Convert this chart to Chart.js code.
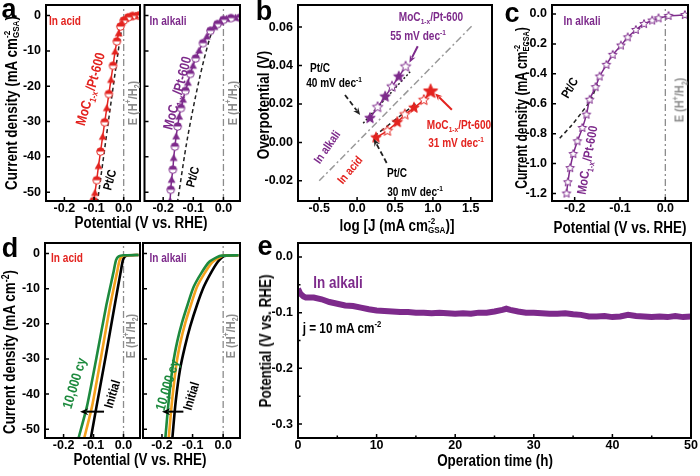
<!DOCTYPE html>
<html>
<head>
<meta charset="utf-8">
<script src="https://cdn.jsdelivr.net/npm/chart.js@4.4.1/dist/chart.umd.min.js"></script>
<style>
  html, body { margin: 0; padding: 0; background: #fff; }
  #fig { position: relative; width: 700px; height: 476px; overflow: hidden;
         font-family: 'Liberation Sans', Arial, sans-serif; font-weight: bold; }
  #fig canvas { position: absolute; }
  .t { position: absolute; white-space: nowrap; line-height: 1; transform-origin: center center; }
  .t sup, .t sub { font-size: 65%; line-height: 0; }
  .ss { display: inline-block; vertical-align: -0.25em; font-size: 60%; line-height: 0.95; text-align: left; }
  .ss span { display: block; }
</style>
</head>
<body>
<div id="fig"></div>
<script>
// ---- data ----
// a: LSV curves, potential (V vs RHE) / current density (mA cm-2 GSA)
const aAcidMoC_V = [0.05, 0.04, 0.03, 0.023, 0.015, 0.006, 0.0, -0.006, -0.011, -0.017, -0.023, -0.029, -0.036, -0.043, -0.050, -0.057, -0.064, -0.071, -0.078, -0.085, -0.091, -0.097, -0.101];
const aAcidMoC_J = [0, -0.05, -0.1, -0.3, -0.5, -0.9, -1.4, -2.0, -3.1, -5.0, -7.3, -10.2, -14.2, -18.2, -22.2, -26.2, -30.2, -34.3, -38.5, -42.6, -46.6, -50.2, -52.5];
const aAcidPt_V = [0.05, 0.02, 0.005, -0.005, -0.02, -0.05, -0.088];
const aAcidPt_J = [0, -0.3, -1.0, -3.0, -11, -29, -52.5];
const aAlkMoC_V = [0.055, 0.04, 0.025, 0.01, 0.0, -0.01, -0.02, -0.03, -0.043, -0.055, -0.068, -0.081, -0.092, -0.101, -0.110, -0.118, -0.126, -0.134, -0.141, -0.147, -0.152, -0.157, -0.161, -0.165, -0.168, -0.172, -0.175, -0.177];
const aAlkMoC_J = [-0.6, -0.6, -0.7, -0.9, -1.2, -1.8, -2.4, -3.2, -4.3, -5.9, -7.8, -9.9, -12.1, -14.2, -16.5, -19.0, -21.3, -23.8, -26.2, -28.6, -31.4, -34.2, -37.1, -40.3, -43.6, -46.5, -49.3, -52.5];
const aAlkPt_V = [0.05, 0.0, -0.02, -0.04, -0.08, -0.12, -0.152];
const aAlkPt_J = [-0.6, -1.0, -2.5, -5, -18, -35, -52.5];

// b: Tafel plots, log J / overpotential (V)
const bGuide_X = [-0.5, 1.52];
const bGuide_Y = [-0.02, 0.0608];
const bAlkMoC_X = [0.17, 0.27, 0.37, 0.46, 0.55, 0.64];
const bAlkMoC_Y = [0.0126, 0.0183, 0.0238, 0.029, 0.0342, 0.0394];
const bAlkPt_X = [0.08, 0.70];
const bAlkPt_Y = [0.010, 0.0368];
const bAcidMoC_X = [0.25, 0.40, 0.53, 0.63, 0.75, 0.88, 0.97];
const bAcidMoC_Y = [0.0025, 0.006, 0.0105, 0.0145, 0.018, 0.022, 0.0265];
const bAcidPt_X = [0.22, 0.80];
const bAcidPt_Y = [0.003, 0.021];

// c: ECSA-normalised LSV in alkali
const cMoC_V = [0.043, 0.007, -0.015, -0.029, -0.047, -0.065, -0.083, -0.098, -0.116, -0.130, -0.145, -0.154, -0.167, -0.174, -0.183, -0.194, -0.203, -0.210, -0.215, -0.218];
const cMoC_J = [-0.007, -0.013, -0.029, -0.044, -0.067, -0.107, -0.156, -0.211, -0.273, -0.340, -0.418, -0.489, -0.573, -0.673, -0.762, -0.851, -0.936, -1.03, -1.125, -1.2];
const cPt_V = [-0.233, -0.207, -0.185, -0.165, -0.15];
const cPt_J = [-0.83, -0.745, -0.66, -0.575, -0.47];

// d: durability, initial / intermediate / after 10,000 cycles
const dAcidInit_V = [0.05, 0.02, 0.005, -0.002, -0.01, -0.03, -0.06, -0.09, -0.109];
const dAcidMid_V = [0.05, 0.01, -0.005, -0.013, -0.022, -0.045, -0.075, -0.105, -0.131];
const dAcidEnd_V = [0.05, 0.0, -0.016, -0.025, -0.034, -0.058, -0.09, -0.122, -0.15];
const dAcid_J = [-0.4, -0.5, -0.8, -1.9, -5.5, -15, -29.5, -43.5, -52.5];
const dAlkInit_V = [0.05, 0.01, 0.0, -0.018, -0.04, -0.063, -0.085, -0.108, -0.125, -0.141, -0.155, -0.166];
const dAlkInit_J = [-0.5, -0.6, -0.8, -2.4, -5.5, -9.4, -14.5, -20.8, -26.5, -33, -42, -52.5];
const dAlkMid_V = [0.05, 0.0, -0.01, -0.035, -0.06, -0.085, -0.105, -0.124, -0.139, -0.152, -0.166, -0.178];
const dAlkEnd_V = [0.05, -0.005, -0.02, -0.046, -0.071, -0.096, -0.116, -0.135, -0.15, -0.163, -0.177, -0.189];
const dAlk_J = [-0.5, -0.6, -1.0, -2.4, -5.5, -9.4, -14.5, -19.8, -25, -31, -41, -52.5];

// e: chronopotentiometry at 10 mA cm-2
const eTime = [0, 0.3, 0.7, 1, 2, 3, 4, 5, 6, 7, 8, 9, 10, 11, 12, 13, 14, 15, 16, 17, 18, 19, 20, 21, 22, 23, 24, 25, 26, 26.5, 27, 28, 29, 30, 31, 32, 33, 34, 35, 36, 37, 38, 39, 40, 41, 42, 43, 44, 45, 46, 47, 48, 49, 50];
const ePot = [-0.057, -0.066, -0.071, -0.073, -0.073, -0.076, -0.081, -0.084, -0.087, -0.088, -0.091, -0.094, -0.096, -0.097, -0.098, -0.099, -0.099, -0.1, -0.1, -0.101, -0.1, -0.101, -0.102, -0.101, -0.102, -0.1, -0.1, -0.098, -0.095, -0.093, -0.095, -0.098, -0.1, -0.1, -0.101, -0.102, -0.102, -0.101, -0.103, -0.104, -0.107, -0.107, -0.106, -0.108, -0.107, -0.104, -0.106, -0.107, -0.108, -0.107, -0.108, -0.106, -0.108, -0.107];

// ticks
const aXTicks = [-0.2, -0.1, 0.0];
const aYTicks = [0, -10, -20, -30, -40, -50];
const bXTicks = [-0.5, 0.0, 0.5, 1.0, 1.5];
const bYTicks = [0.06, 0.04, 0.02, 0.00, -0.02];
const cXTicks = [-0.2, -0.1, 0.0];
const cYTicks = [0.0, -0.2, -0.4, -0.6, -0.8, -1.0, -1.2];
const eXTicks = [0, 10, 20, 30, 40, 50];
const eYTicks = [0.0, -0.1, -0.2, -0.3];
const eXMinor = [5, 15, 25, 35, 45];
const eYMinor = [-0.05, -0.15, -0.25];
const eqPotential = 0;

// ---- styling ----
const RED = '#e3231f', PURPLE = '#7d2a8b', GREEN = '#1d8a3e', ORANGE = '#f4a11d', GRAY = '#8c8c8c';
Chart.defaults.font.family = "'Liberation Sans', Arial, sans-serif";
Chart.defaults.font.weight = 'bold';
Chart.defaults.color = '#000';

const fig = document.getElementById('fig');
const pts = (xs, ys) => xs.map((x, i) => ({ x, y: ys[i] }));

function label(html, cx, cy, o = {}) {
  const d = document.createElement('div');
  d.className = 't';
  d.innerHTML = html;
  d.style.fontSize = (o.size || 12) + 'px';
  d.style.color = o.color || '#000';
  d.style.left = cx + 'px';
  d.style.top = cy + 'px';
  d.style.transform = `translate(-50%,-50%) rotate(${o.rot || 0}deg) scaleX(${o.sx ?? 0.84})`;
  fig.appendChild(d);
}

// marker images
function marker(kind, color, r) {
  const s = Math.ceil(r * 2 + 3);
  const c = document.createElement('canvas');
  c.width = s; c.height = s;
  const g = c.getContext('2d');
  const m = s / 2;
  g.lineWidth = 1;
  g.strokeStyle = color;
  if (kind === 'half') {
    g.fillStyle = '#fff';
    g.beginPath(); g.arc(m, m, r, 0, Math.PI * 2); g.fill();
    g.fillStyle = color;
    g.beginPath(); g.arc(m, m, r, Math.PI, 0); g.fill();
    g.beginPath(); g.arc(m, m, r, 0, Math.PI * 2); g.stroke();
  } else if (kind === 'tri') {
    g.fillStyle = color;
    g.beginPath(); g.moveTo(m, m - r); g.lineTo(m + r, m + r * 0.8); g.lineTo(m - r, m + r * 0.8); g.closePath(); g.fill();
  } else {
    g.fillStyle = kind === 'star' ? color : '#fff';
    g.beginPath();
    for (let i = 0; i < 10; i++) {
      const a = -Math.PI / 2 + i * Math.PI / 5;
      const rr = i % 2 ? r * 0.45 : r;
      g.lineTo(m + rr * Math.cos(a), m + rr * Math.sin(a));
    }
    g.closePath(); g.fill(); g.stroke();
  }
  return c;
}

// box around the plot area plus inward tick marks
const framePlugin = {
  id: 'frame',
  afterDraw(ch, args, opts) {
    const { ctx, chartArea: a, scales: { x, y } } = ch;
    ctx.save();
    ctx.strokeStyle = '#000'; ctx.lineWidth = 1.5;
    ctx.beginPath();
    x.ticks.forEach(t => { const p = x.getPixelForValue(t.value); ctx.moveTo(p, a.bottom); ctx.lineTo(p, a.bottom - 4); });
    y.ticks.forEach(t => { const p = y.getPixelForValue(t.value); ctx.moveTo(a.left, p); ctx.lineTo(a.left + 4, p); });
    (opts.xMinor || []).forEach(v => { const p = x.getPixelForValue(v); ctx.moveTo(p, a.bottom); ctx.lineTo(p, a.bottom - 2.5); });
    (opts.yMinor || []).forEach(v => { const p = y.getPixelForValue(v); ctx.moveTo(a.left, p); ctx.lineTo(a.left + 2.5, p); });
    ctx.stroke();
    ctx.lineWidth = 2;
    ctx.strokeRect(a.left, a.top, a.right - a.left, a.bottom - a.top);
    ctx.restore();
  }
};

const arrowPlugin = {
  id: 'arrows',
  afterDatasetsDraw(ch, args, opts) {
    const list = opts.list || [];
    const { ctx, scales: { x, y } } = ch;
    list.forEach(ar => {
      const x0 = x.getPixelForValue(ar.from[0]), y0 = y.getPixelForValue(ar.from[1]);
      const x1 = x.getPixelForValue(ar.to[0]), y1 = y.getPixelForValue(ar.to[1]);
      const ang = Math.atan2(y1 - y0, x1 - x0), hl = ar.head || 8;
      ctx.save();
      ctx.strokeStyle = ar.color; ctx.fillStyle = ar.color; ctx.lineWidth = ar.width || 1.5;
      ctx.setLineDash(ar.dash || []);
      ctx.beginPath(); ctx.moveTo(x0, y0);
      ctx.lineTo(x1 - Math.cos(ang) * hl * 0.7, y1 - Math.sin(ang) * hl * 0.7); ctx.stroke();
      ctx.setLineDash([]);
      ctx.beginPath(); ctx.moveTo(x1, y1);
      ctx.lineTo(x1 - hl * Math.cos(ang - 0.4), y1 - hl * Math.sin(ang - 0.4));
      ctx.lineTo(x1 - hl * 0.6 * Math.cos(ang), y1 - hl * 0.6 * Math.sin(ang));
      ctx.lineTo(x1 - hl * Math.cos(ang + 0.4), y1 - hl * Math.sin(ang + 0.4));
      ctx.closePath(); ctx.fill();
      ctx.restore();
    });
  }
};

function axis(a, size, isX, showLabels) {
  return {
    type: 'linear', min: a.min, max: a.max,
    afterBuildTicks: s => { s.ticks = a.ticks.map(v => ({ value: v })); },
    afterFit: s => {
      if (isX) s.height = size; else s.width = size;
      s.paddingLeft = s.paddingRight = s.paddingTop = s.paddingBottom = 0;
    },
    ticks: { display: showLabels, autoSkip: false, maxRotation: 0, padding: isX ? 0 : 5,
             font: { size: 12.5, weight: 'bold' }, color: '#000',
             callback: v => Number(v).toFixed(a.dec) },
    grid: { display: false, drawTicks: false },
    border: { display: false }
  };
}

function panel(cfg) {
  const { l, t, w, h } = cfg.frame;
  const yw = cfg.yw || 0, xh = cfg.xh || 20;
  const pad = { left: 4, top: 9, right: 14, bottom: 2 };
  const W = pad.left + yw + w + pad.right, H = pad.top + h + xh + pad.bottom;
  const c = document.createElement('canvas');
  c.width = W; c.height = H;
  c.style.left = (l - yw - pad.left) + 'px';
  c.style.top = (t - pad.top) + 'px';
  c.style.width = W + 'px'; c.style.height = H + 'px';
  fig.appendChild(c);
  new Chart(c, {
    type: 'scatter',
    data: { datasets: cfg.datasets },
    options: {
      responsive: false, animation: false, devicePixelRatio: 1,
      layout: { padding: pad },
      plugins: {
        legend: { display: false }, tooltip: { enabled: false },
        arrows: { list: cfg.arrows || [] },
        frame: { xMinor: cfg.xMinor, yMinor: cfg.yMinor }
      },
      scales: {
        x: axis(cfg.x, xh, true, true),
        y: axis(cfg.y, yw, false, cfg.yLabels !== false)
      }
    },
    plugins: [framePlugin, arrowPlugin]
  });
}

const line = (data, color, extra = {}) => Object.assign({
  data, showLine: true, borderColor: color, backgroundColor: color, borderWidth: 1.5,
  pointRadius: 0, tension: 0.3, clip: 0
}, extra);
const eLine = (ymin, ymax) => line([{ x: eqPotential, y: ymin }, { x: eqPotential, y: ymax }], GRAY,
  { borderDash: [7, 3, 2, 3], tension: 0, borderWidth: 1.3 });

const halfR = marker('half', RED, 3.8), triR = marker('tri', RED, 3.9);
const halfP = marker('half', PURPLE, 3.8), triP = marker('tri', PURPLE, 3.9);
const aPts = (a, b) => ({ pointStyle: c => c.dataIndex % 2 ? b : a, pointRadius: 4 });

const aX = { min: -0.262, max: 0.055, ticks: aXTicks, dec: 1 };
const aY = { min: -52.5, max: 3, ticks: aYTicks, dec: 0 };

// ---- a ----
panel({
  frame: { l: 46, t: 5, w: 94, h: 196 }, yw: 30,
  x: aX, y: aY,
  datasets: [
    line(pts(aAcidMoC_V, aAcidMoC_J), RED, aPts(halfR, triR)),
    line(pts(aAcidPt_V, aAcidPt_J), '#222', { borderDash: [4, 3] }),
    eLine(-52.5, 3)
  ]
});
panel({
  frame: { l: 143, t: 5, w: 97, h: 196 }, yLabels: false,
  x: aX, y: aY,
  datasets: [
    line(pts(aAlkMoC_V, aAlkMoC_J), PURPLE, aPts(halfP, triP)),
    line(pts(aAlkPt_V, aAlkPt_J), '#222', { borderDash: [4, 3] }),
    eLine(-52.5, 3)
  ]
});

// ---- b ----
const starP = marker('star', PURPLE, 5.5), ostarP = marker('ostar', PURPLE, 5.5);
const starR = marker('star', RED, 5.5), ostarR = marker('ostar', RED, 5.5), bigStarR = marker('star', RED, 7.5);
panel({
  frame: { l: 298, t: 5, w: 194, h: 196 }, yw: 36,
  x: { min: -0.78, max: 1.78, ticks: bXTicks, dec: 1 },
  y: { min: -0.0305, max: 0.0715, ticks: bYTicks, dec: 2 },
  datasets: [
    line(pts(bAlkMoC_X, bAlkMoC_Y), PURPLE, { tension: 0, pointRadius: 5, pointStyle: c => c.dataIndex % 2 ? ostarP : starP }),
    line(pts(bAcidMoC_X, bAcidMoC_Y), RED, { tension: 0, pointRadius: 5,
      pointStyle: c => c.dataIndex === bAcidMoC_X.length - 1 ? bigStarR : (c.dataIndex % 2 ? ostarR : starR) }),
    line(pts(bAlkPt_X, bAlkPt_Y), '#222', { tension: 0, borderDash: [2, 2] }),
    line(pts(bAcidPt_X, bAcidPt_Y), '#222', { tension: 0, borderDash: [5, 3] }),
    line(pts(bGuide_X, bGuide_Y), '#999', { tension: 0, borderDash: [7, 3, 2, 3] })
  ],
  arrows: [
    { from: [0.80, 0.050], to: [0.69, 0.0415], color: PURPLE, width: 2 },
    { from: [-0.16, 0.0247], to: [0.04, 0.0143], color: '#222', dash: [5, 3], width: 1.8 },
    { from: [0.39, -0.0107], to: [0.22, 0.0018], color: '#222', dash: [5, 3], width: 1.8 },
    { from: [1.25, 0.017], to: [1.03, 0.0255], color: RED, width: 2 }
  ]
});

// ---- c ----
const cStar = marker('ostar', PURPLE, 4.5);
panel({
  frame: { l: 552, t: 5, w: 136, h: 196 }, yw: 32,
  x: { min: -0.25, max: 0.05, ticks: cXTicks, dec: 1 },
  y: { min: -1.25, max: 0.06, ticks: cYTicks, dec: 1 },
  datasets: [
    line(pts(cMoC_V, cMoC_J), PURPLE, { pointRadius: 5, pointStyle: cStar }),
    line(pts(cPt_V, cPt_J), '#222', { borderDash: [4, 3] }),
    eLine(-1.25, 0.06)
  ]
});

// ---- d ----
const dArrow = (a, b) => ({ from: [a, -45], to: [b, -45], color: '#000', width: 2, head: 9 });
panel({
  frame: { l: 45, t: 243, w: 95, h: 195 }, yw: 30,
  x: aX, y: aY,
  datasets: [
    line(pts(dAcidEnd_V, dAcid_J), GREEN, { borderWidth: 2.6, tension: 0.2 }),
    line(pts(dAcidMid_V, dAcid_J), ORANGE, { borderWidth: 2.6, tension: 0.2 }),
    line(pts(dAcidInit_V, dAcid_J), '#000', { borderWidth: 2.6, tension: 0.2 }),
    eLine(-52.5, 3)
  ],
  arrows: [dArrow(-0.065, -0.145)]
});
panel({
  frame: { l: 143, t: 243, w: 97, h: 195 }, yLabels: false,
  x: aX, y: aY,
  datasets: [
    line(pts(dAlkEnd_V, dAlk_J), GREEN, { borderWidth: 2.6, tension: 0.3 }),
    line(pts(dAlkMid_V, dAlk_J), ORANGE, { borderWidth: 2.6, tension: 0.3 }),
    line(pts(dAlkInit_V, dAlkInit_J), '#000', { borderWidth: 2.6, tension: 0.3 }),
    eLine(-52.5, 3)
  ],
  arrows: [dArrow(-0.13, -0.2)]
});

// ---- e ----
panel({
  frame: { l: 298, t: 243, w: 393, h: 195 }, yw: 36,
  x: { min: 0, max: 50, ticks: eXTicks, dec: 0 },
  y: { min: -0.325, max: 0.025, ticks: eYTicks, dec: 1 },
  xMinor: eXMinor, yMinor: eYMinor,
  datasets: [line(pts(eTime, ePot), PURPLE, { borderWidth: 6, tension: 0 })]
});

// ---- text ----
const unit = (a, b) => `<span class="ss"><span>${a}</span><span>${b}</span></span>`;
const moc = 'MoC<sub>1-x</sub>/Pt-600';
const eh = 'E (H<sup>+</sup>/H<sub>2</sub>)';
const T = 16;
label('a', 9, 9, { size: 27, sx: 1 });
label('b', 264, 11, { size: 27, sx: 1 });
label('c', 512, 13, { size: 27, sx: 1 });
label('d', 10, 248, { size: 27, sx: 1 });
label('e', 265, 246, { size: 27, sx: 1 });

label(`Current density (mA cm${unit('-2', 'GSA')})`, 11, 103, { size: T, rot: -90 });
label('Potential (V vs. RHE)', 141, 223, { size: T });
label('In acid', 65, 21, { color: RED });
label('In alkali', 168, 21, { color: PURPLE });
label(moc, 90, 89, { size: 14, color: RED, rot: -74 });
label(moc, 177, 93, { size: 14, color: PURPLE, rot: -75 });
label('Pt/C', 110, 180, { size: 12.5, rot: -75 });
label('Pt/C', 193, 177, { size: 12.5, rot: -75 });
label(eh, 132, 103, { size: 13, color: GRAY, rot: -90 });
label(eh, 232, 103, { size: 13, color: GRAY, rot: -90 });

label('Overpotential (V)', 264, 105, { size: T, rot: -90 });
label(`log [J (mA cm${unit('-2', 'GSA')})]`, 397, 225, { size: T });
label(moc, 431, 17, { color: PURPLE });
label('55 mV dec<sup>-1</sup>', 418, 36, { color: PURPLE });
label('Pt/C', 320, 68);
label('40 mV dec<sup>-1</sup>', 334, 83);
label('In alkali', 327, 147, { color: PURPLE, rot: -55 });
label('In acid', 350, 170, { color: RED, rot: -50 });
label('Pt/C', 397, 173);
label('30 mV dec<sup>-1</sup>', 415, 192);
label(moc, 459, 125, { color: RED });
label('31 mV dec<sup>-1</sup>', 456, 143, { color: RED });

label(`Current density (mA cm${unit('-2', 'ECSA')})`, 521, 108, { size: T, rot: -90, sx: 0.76 });
label('Potential (V vs. RHE)', 620, 228, { size: T });
label('In alkali', 582, 21, { color: PURPLE });
label('Pt/C', 570, 88, { size: 12.5, rot: -60 });
label(moc, 587, 160, { size: 13, color: PURPLE, rot: -80 });
label(eh, 679, 100, { size: 13, color: GRAY, rot: -90 });

label('Current density (mA cm<sup>-2</sup>)', 10, 352, { size: T, rot: -90 });
label('Potential (V vs. RHE)', 140, 460, { size: T });
label('In acid', 67, 258, { color: RED });
label('In alkali', 168, 258, { color: PURPLE });
label(eh, 130, 336, { size: 13, color: GRAY, rot: -90 });
label(eh, 230, 336, { size: 13, color: GRAY, rot: -90 });
label('10,000 cy', 74, 383, { size: 14, color: GREEN, rot: -73 });
label('10,000 cy', 167, 385, { size: 14, color: GREEN, rot: -73 });
label('Initial', 112, 394, { size: 13, rot: -73 });
label('Initial', 191, 396, { size: 13, rot: -73 });

label('Potential (V vs. RHE)', 266, 341, { size: T, rot: -90 });
label('Operation time (h)', 495, 461, { size: T });
label('In alkali', 338, 283, { size: 16, color: PURPLE });
label('j = 10 mA cm<sup>-2</sup>', 342, 328, { size: 14 });
</script>
</body>
</html>
